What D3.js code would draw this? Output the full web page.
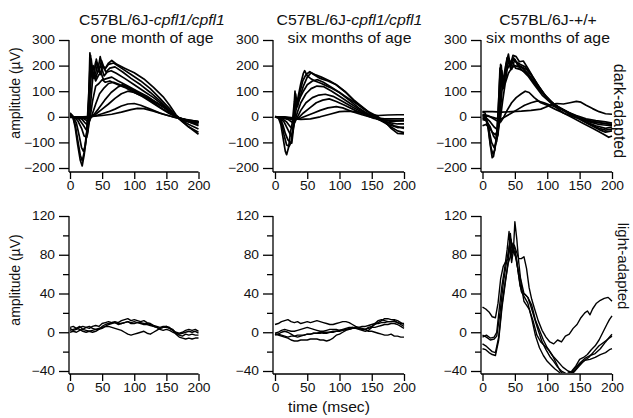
<!DOCTYPE html>
<html>
<head>
<meta charset="utf-8">
<script src="https://cdn.jsdelivr.net/npm/d3@7"></script>
<style>
  body { margin: 0; background: #fff; }
  svg text { font-family: "Liberation Sans", Arial, sans-serif; fill: #111; }
</style>
</head>
<body>
<div id="grafico"></div>
<script>
// EIXOS --------------------------------------------------------------------
const tempoTicks = [0, 50, 100, 150, 200];
const escuroTicks = [-200, -100, 0, 100, 200, 300];
const claroTicks = [-40, 0, 40, 80, 120];
const claroTicksMenores = [-20, 20, 60, 100];

// TEXTOS -------------------------------------------------------------------
const linhagens = [["C57BL/6J-", "cpfl1/cpfl1"], ["C57BL/6J-", "cpfl1/cpfl1"], ["C57BL/6J-+/+", ""]];
const idades = ["one month of age", "six months of age", "six months of age"];
const adaptacoes = ["dark-adapted", "light-adapted"];
const rotuloY = "amplitude (\u00b5V)";
const rotuloX = "time (msec)";

// DADOS: adaptado ao escuro, [tempo ms, amplitude µV] ----------------------
const escuroCpfl1Mes1 = [
  [[0,15],[4,5],[8,-40],[12,-110],[16,-170],[19,-192],[22,-150],[26,-70],[29,60],[31,250],[33,170],[36,150],[40,215],[44,190],[47,235],[50,200],[55,190],[60,210],[65,220],[73,205],[85,190],[100,172],[115,148],[130,115],[145,78],[155,45],[165,8],[175,-18],[185,-40],[200,-68]],
  [[0,10],[4,3],[8,-30],[12,-90],[16,-150],[19,-172],[22,-140],[26,-60],[29,80],[32,240],[34,180],[37,160],[41,225],[45,175],[49,220],[54,185],[60,205],[68,210],[80,190],[95,165],[110,140],[125,110],[140,72],[155,32],[165,2],[175,-20],[185,-40],[200,-60]],
  [[0,5],[5,0],[10,-25],[14,-70],[18,-120],[21,-135],[24,-110],[27,-40],[30,100],[33,225],[36,160],[40,170],[43,210],[47,165],[51,200],[56,175],[62,190],[70,195],[82,175],[95,150],[110,125],[125,95],[140,62],[155,25],[165,0],[175,-15],[185,-30],[200,-48]],
  [[0,2],[6,0],[12,-15],[18,-45],[22,-75],[26,-80],[28,-60],[30,40],[33,160],[36,200],[40,150],[44,185],[48,200],[53,160],[58,175],[64,180],[72,170],[85,150],[100,125],[115,100],[130,75],[145,45],[160,12],[170,-5],[180,-15],[190,-25],[200,-35]],
  [[0,0],[8,-2],[14,-10],[20,-30],[25,-50],[28,-55],[30,-20],[33,80],[36,170],[40,140],[44,160],[48,175],[52,145],[58,150],[65,155],[75,140],[90,120],[105,100],[120,80],[135,55],[150,30],[162,8],[172,-8],[185,-20],[200,-30]],
  [[0,0],[10,-2],[18,-8],[24,-25],[28,-35],[31,-10],[35,60],[40,120],[45,130],[50,145],[55,135],[62,140],[70,130],[85,115],[100,95],[115,78],[130,60],[145,40],[158,15],[168,-2],[180,-15],[200,-25]],
  [[0,-2],[10,-3],[20,-6],[26,-15],[30,-18],[34,5],[40,50],[46,90],[52,110],[60,130],[68,135],[78,125],[90,115],[105,95],[120,75],[135,55],[150,30],[162,5],[175,-12],[200,-22]],
  [[0,0],[12,-2],[22,-5],[30,-8],[36,5],[44,30],[54,65],[64,95],[74,115],[82,125],[90,115],[100,100],[115,80],[130,55],[145,30],[158,10],[170,-5],[185,-15],[200,-20]],
  [[0,0],[15,-1],[25,-3],[32,0],[40,10],[50,30],[60,50],[70,72],[80,90],[90,100],[100,95],[112,80],[125,60],[140,35],[155,12],[168,-2],[180,-12],[200,-18]],
  [[0,0],[15,0],[30,0],[40,4],[50,12],[60,20],[70,30],[80,42],[90,50],[100,52],[110,45],[125,30],[140,15],[155,3],[168,-5],[185,-15],[200,-22]],
  [[0,0],[20,0],[35,2],[50,5],[65,10],[80,18],[95,28],[105,33],[115,32],[130,22],[145,10],[160,0],[175,-8],[190,-15],[200,-20]]
];

const escuroCpfl1Meses6 = [
  [[0,0],[5,-2],[9,-30],[13,-90],[16,-135],[18,-148],[21,-120],[24,-60],[27,-20],[30,60],[31,100],[33,30],[36,80],[40,130],[44,170],[46,180],[50,160],[55,150],[62,140],[72,130],[85,115],[100,95],[115,70],[130,45],[145,20],[160,0],[172,-25],[180,-40],[190,-55],[200,-62]],
  [[0,2],[6,-3],[10,-25],[14,-70],[18,-110],[22,-115],[25,-100],[28,-40],[30,40],[32,90],[34,50],[38,90],[43,140],[48,165],[54,176],[60,165],[70,150],[82,140],[95,125],[110,95],[122,66],[135,40],[147,14],[160,-5],[171,-20],[180,-45],[190,-65],[200,-67]],
  [[0,0],[8,-5],[12,-30],[16,-65],[20,-90],[24,-100],[26,-103],[28,-60],[30,0],[32,70],[35,40],[39,80],[44,120],[50,155],[56,172],[62,165],[72,155],[85,140],[95,125],[108,100],[121,66],[135,35],[147,14],[158,-5],[171,-18],[185,-35],[200,-45]],
  [[0,0],[8,-5],[14,-20],[20,-50],[25,-75],[28,-55],[31,0],[34,50],[38,70],[44,100],[50,125],[58,140],[66,145],[75,135],[88,115],[100,95],[115,65],[130,35],[145,10],[160,-10],[175,-30],[190,-42],[200,-40]],
  [[0,0],[10,-5],[18,-20],[24,-40],[28,-45],[31,-15],[35,20],[40,55],[48,90],[56,110],[65,120],[75,118],[88,100],[100,80],[115,55],[130,30],[145,8],[160,-10],[175,-22],[190,-28],[200,-28]],
  [[0,0],[10,-3],[20,-10],[26,-20],[30,-25],[34,-5],[40,25],[48,55],[58,75],[68,85],[78,88],[90,80],[105,60],[120,38],[135,18],[150,0],[165,-12],[180,-18],[200,-15]],
  [[0,0],[12,-2],[22,-8],[30,-12],[36,-5],[44,15],[54,35],[64,55],[74,65],[84,70],[95,60],[108,45],[122,28],[137,10],[152,-5],[168,-12],[185,-15],[200,-15]],
  [[0,0],[15,0],[25,-3],[32,-8],[40,-5],[50,5],[60,15],[70,25],[82,35],[95,40],[105,35],[120,20],[135,8],[150,-2],[170,-8],[200,-8]],
  [[0,0],[15,-2],[30,-8],[40,-10],[55,-8],[70,0],[85,10],[100,20],[115,22],[130,18],[145,10],[160,5],[175,7],[190,8],[200,8]]
];

const escuroSelvagem = [
  [[0,20],[4,15],[8,-30],[12,-110],[15,-160],[17,-155],[20,-110],[23,-40],[26,120],[28,205],[30,120],[33,110],[36,200],[40,245],[43,200],[47,240],[52,235],[57,215],[63,218],[70,190],[78,155],[88,115],[100,70],[112,40],[125,15],[140,-5],[155,-25],[170,-45],[185,-65],[195,-80],[200,-75]],
  [[0,-5],[5,-10],[10,-50],[14,-100],[18,-120],[22,-95],[25,-40],[27,80],[29,200],[31,130],[35,170],[39,235],[43,190],[48,230],[54,205],[60,195],[68,185],[76,160],[86,120],[98,80],[110,50],[122,30],[135,10],[150,-10],[165,-30],[180,-50],[190,-60],[200,-55]],
  [[0,-10],[6,-15],[12,-40],[17,-75],[21,-90],[24,-70],[27,30],[30,180],[32,120],[36,150],[40,220],[45,185],[50,225],[55,200],[62,190],[70,170],[80,135],[92,95],[105,60],[118,35],[130,20],[145,0],[160,-20],[175,-35],[190,-45],[200,-40]],
  [[0,-35],[5,-30],[10,-40],[15,-60],[20,-70],[24,-50],[27,0],[30,100],[33,150],[37,180],[41,200],[46,215],[51,190],[58,185],[66,175],[75,150],[85,115],[97,80],[110,50],[125,25],[140,5],[155,-10],[170,-20],[185,-25],[200,-30]],
  [[0,0],[6,-5],[12,-20],[18,-40],[23,-50],[27,-20],[31,60],[35,130],[40,170],[45,190],[50,200],[56,195],[62,180],[70,160],[80,125],[92,85],[105,55],[120,35],[135,15],[150,-5],[165,-20],[180,-30],[200,-35]],
  [[0,10],[8,5],[15,-5],[22,-15],[28,-20],[32,-5],[38,25],[45,55],[52,75],[60,90],[66,100],[72,95],[80,75],[90,55],[100,45],[112,30],[125,15],[140,0],[155,-10],[170,-18],[185,-25],[200,-30]],
  [[0,5],[10,2],[20,-5],[28,-10],[35,0],[45,15],[55,30],[65,45],[75,55],[85,62],[95,55],[105,45],[118,35],[130,20],[145,5],[160,-8],[175,-15],[190,-20],[200,-25]],
  [[0,20],[15,20],[30,18],[45,20],[60,22],[75,25],[90,30],[100,40],[108,50],[115,52],[125,50],[135,55],[145,60],[152,57],[160,45],[170,32],[180,20],[190,12],[200,10]],
  [[0,5],[5,0],[9,-45],[13,-120],[16,-145],[19,-130],[22,-70],[25,60],[27,190],[29,150],[33,160],[38,230],[42,210],[46,225],[52,215],[58,205],[66,195],[74,170],[84,130],[95,90],[108,55],[120,32],[135,12],[150,-8],[165,-28],[180,-45],[190,-52],[200,-48]]
];

// DADOS: adaptado à luz ----------------------------------------------------
const tempoClaro = [0,5,10,15,20,25,30,35,40,45,50,55,60,65,70,75,80,85,90,95,100,105,110,115,120,125,130,135,140,145,150,155,160,165,170,175,180,185,190,195,200];

const claroCpfl1Mes1 = [
  [5,6,4,6,3,5,4,6,7,6,9,10,11,10,11,10,12,13,14,12,13,12,11,12,10,9,7,6,5,6,6,4,3,-1,-3,-4,-2,-3,-2,-3,-3],
  [0,1,0,2,3,2,1,2,3,4,5,6,6,5,4,3,2,0,-2,-3,-2,-1,0,1,-1,-2,0,2,4,5,5,4,2,-2,-5,-6,-7,-6,-7,-6,-6],
  [2,3,4,3,1,0,1,0,1,3,6,8,9,10,10,9,9,10,11,10,11,10,9,8,8,7,6,5,3,2,3,2,0,-1,-2,-1,0,1,0,1,-1],
  [4,2,3,5,6,5,6,4,3,3,4,6,8,9,10,8,9,10,11,9,9,10,10,9,9,8,6,5,4,5,6,5,2,0,-1,0,2,3,2,3,1]
];

const claroCpfl1Meses6 = [
  [8,9,11,12,13,11,10,11,9,10,11,10,11,12,11,10,9,8,8,9,10,11,11,10,8,6,5,4,3,1,1,0,-1,-2,-3,-3,-2,-4,-4,-5,-5],
  [-2,-3,-4,-5,-6,-8,-9,-9,-8,-8,-8,-7,-7,-7,-8,-8,-9,-8,-6,-3,-2,0,2,3,4,4,3,2,1,2,5,9,12,13,12,11,11,12,10,8,6],
  [-1,0,2,3,2,1,1,2,3,4,5,4,3,2,1,1,2,3,3,3,2,3,4,5,5,4,4,3,3,5,6,8,10,12,14,14,13,13,12,10,8],
  [-3,-2,0,1,0,-2,-4,-5,-4,-3,-2,-2,-1,-1,0,-1,-1,0,0,1,1,2,3,4,5,5,4,3,3,4,5,5,6,7,8,8,9,9,8,6,4],
  [-2,-2,-3,-4,-5,-4,-4,-3,-3,-3,-2,-2,-1,-1,-1,0,0,0,1,1,2,2,3,3,4,4,5,6,6,7,8,9,9,10,10,11,11,11,10,9,9]
];

const claroSelvagem = [
  [[0,26],[5,24],[10,21],[15,16],[20,15],[24,30],[28,55],[32,68],[36,73],[40,76],[43,102],[46,82],[49,90],[52,84],[56,76],[60,76],[64,78],[68,66],[72,46],[76,34],[80,25],[86,12],[92,2],[98,-5],[104,-10],[110,-12],[116,-8],[122,-10],[128,-4],[134,-2],[140,4],[146,8],[152,15],[158,20],[162,22],[166,18],[170,24],[176,30],[182,33],[188,35],[194,36],[197,34],[200,32]],
  [[0,-5],[6,-3],[12,-6],[18,-5],[22,0],[26,25],[30,48],[34,65],[38,85],[41,104],[44,78],[47,92],[50,86],[54,68],[58,48],[62,40],[66,39],[70,36],[75,26],[80,15],[86,2],[92,-10],[98,-18],[104,-25],[110,-30],[116,-36],[122,-40],[130,-43],[138,-40],[144,-35],[150,-28],[156,-26],[162,-23],[168,-18],[174,-14],[180,-8],[186,0],[192,8],[196,13],[200,17]],
  [[0,-12],[5,-14],[10,-17],[15,-20],[20,-21],[25,-5],[30,28],[35,52],[40,72],[44,80],[48,88],[50,114],[53,96],[56,72],[60,48],[64,32],[68,28],[72,24],[78,12],[84,-3],[90,-10],[96,-14],[102,-18],[108,-24],[114,-32],[120,-40],[126,-44],[134,-44],[142,-38],[150,-32],[158,-27],[166,-24],[174,-22],[182,-17],[190,-10],[196,-5],[200,-2]],
  [[0,-17],[5,-18],[10,-21],[15,-23],[20,-24],[25,-8],[30,25],[35,50],[39,70],[42,90],[45,72],[48,86],[52,78],[56,58],[60,42],[65,36],[70,30],[76,14],[82,-4],[88,-16],[94,-24],[100,-30],[106,-34],[112,-38],[118,-41],[126,-46],[134,-44],[142,-40],[150,-33],[158,-29],[166,-28],[174,-26],[182,-23],[190,-21],[196,-18],[200,-17]],
  [[0,-3],[6,-5],[12,-8],[18,-7],[22,-4],[27,20],[32,50],[37,72],[41,88],[44,96],[47,84],[51,78],[55,64],[60,52],[64,40],[70,36],[76,28],[82,12],[88,2],[94,-8],[100,-16],[108,-24],[116,-30],[124,-36],[132,-40],[140,-42],[148,-36],[156,-30],[164,-26],[172,-20],[180,-14],[188,-10],[196,-6],[200,-4]]
];

// grade -> pares [tempo, valor]
const emPares = series => series.map(s => s.map((v, i) => [tempoClaro[i], v]));

// LAYOUT -------------------------------------------------------------------
const largura = 633, altura = 418;
const colunas = [
  { eixo: 69,  x: [70, 198.5],  titulo: 152 },
  { eixo: 273, x: [275, 404],   titulo: 349.5 },
  { eixo: 481, x: [482.5, 612], titulo: 548 }
];
const linhas = [
  { y: [168, 40], dominio: [-200, 300], base: 172, ticks: escuroTicks, menores: [],
    series: [escuroCpfl1Mes1, escuroCpfl1Meses6, escuroSelvagem], traco: 1.7 },
  { y: [371, 216], dominio: [-40, 120], base: 374, ticks: claroTicks, menores: claroTicksMenores,
    series: [emPares(claroCpfl1Mes1), emPares(claroCpfl1Meses6), claroSelvagem], traco: 1.4 }
];

const svg = d3.select("#grafico").append("svg")
    .attr("width", largura)
    .attr("height", altura)
    .attr("viewBox", [0, 0, largura, altura]);

// estica o texto na horizontal (a figura original é mais larga)
const esticar = (sel, fator) => sel.each(function() {
  const w = this.getComputedTextLength();
  d3.select(this).attr("textLength", w * fator).attr("lengthAdjust", "spacingAndGlyphs");
});

linhas.forEach((linha, li) => {
  colunas.forEach((col, ci) => {
    const escala_x = d3.scaleLinear([0, 200], col.x);
    const escala_y = d3.scaleLinear(linha.dominio, linha.y);
    const g = svg.append("g");
    const clipId = `clip_${li}_${ci}`;

    g.append("clipPath").attr("id", clipId)
      .append("rect")
        .attr("x", col.eixo + 1).attr("y", 0)
        .attr("width", col.x[1] - col.eixo + 3)
        .attr("height", linha.base - 1);

    // CURVAS
    const linhaGen = d3.line().x(d => escala_x(d[0])).y(d => escala_y(d[1]));
    g.append("g")
        .attr("clip-path", `url(#${clipId})`)
        .attr("fill", "none")
        .attr("stroke", "#000")
        .attr("stroke-width", linha.traco)
        .attr("stroke-linejoin", "round")
      .selectAll("path")
      .data(linha.series[ci])
      .join("path")
        .attr("d", linhaGen);

    // EIXO Y
    g.append("g")
        .attr("transform", `translate(${col.eixo},0)`)
        .call(d3.axisLeft(escala_y).tickValues(linha.ticks).tickSize(10).tickPadding(4).tickSizeOuter(0))
        .call(s => s.select(".domain").remove());
    if (linha.menores.length) {
      g.append("g")
          .attr("transform", `translate(${col.eixo},0)`)
          .call(d3.axisLeft(escala_y).tickValues(linha.menores).tickSize(6).tickFormat("").tickSizeOuter(0))
          .call(s => s.select(".domain").remove());
    }
    g.append("line")
        .attr("x1", col.eixo).attr("x2", col.eixo)
        .attr("y1", linha.y[1]).attr("y2", linha.base)
        .attr("stroke", "#000").attr("stroke-width", 1.3);

    // EIXO X
    g.append("g")
        .attr("transform", `translate(0,${linha.base})`)
        .call(d3.axisBottom(escala_x).tickValues(tempoTicks).tickSize(7).tickPadding(2).tickSizeOuter(0))
        .call(s => s.select(".domain").remove());
    g.append("line")
        .attr("x1", col.eixo).attr("x2", col.x[1])
        .attr("y1", linha.base).attr("y2", linha.base)
        .attr("stroke", "#000").attr("stroke-width", 1.3);

    g.selectAll(".tick line").attr("stroke", "#000").attr("stroke-width", 1.3);
    g.selectAll(".tick text")
        .attr("font-family", null)
        .style("font-size", "12px")
        .call(esticar, 1.15);
  });
});

// TÍTULOS
colunas.forEach((col, ci) => {
  const t1 = svg.append("g")
      .attr("transform", `translate(${col.titulo},25) scale(1.13,1)`)
    .append("text")
      .attr("text-anchor", "middle")
      .style("font-size", "14px");
  t1.append("tspan").text(linhagens[ci][0]);
  if (linhagens[ci][1]) t1.append("tspan").attr("font-style", "italic").text(linhagens[ci][1]);

  svg.append("g")
      .attr("transform", `translate(${col.titulo},43) scale(1.13,1)`)
    .append("text")
      .attr("text-anchor", "middle")
      .style("font-size", "14px")
      .text(idades[ci]);
});

// RÓTULOS
[93, 280].forEach(cy => {
  svg.append("text")
      .attr("transform", `translate(20,${cy}) rotate(-90)`)
      .attr("text-anchor", "middle")
      .style("font-size", "14px")
      .text(rotuloY);
});

svg.append("text")
    .attr("x", 329).attr("y", 412)
    .attr("text-anchor", "middle")
    .style("font-size", "14px")
    .text(rotuloX)
    .call(esticar, 1.12);

[[614, 111, 16], [618, 266, 15]].forEach(([cx, cy, fs], i) => {
  svg.append("text")
      .attr("transform", `translate(${cx},${cy}) rotate(90)`)
      .attr("text-anchor", "middle")
      .style("font-size", `${fs}px`)
      .text(adaptacoes[i]);
});
</script>
</body>
</html>
